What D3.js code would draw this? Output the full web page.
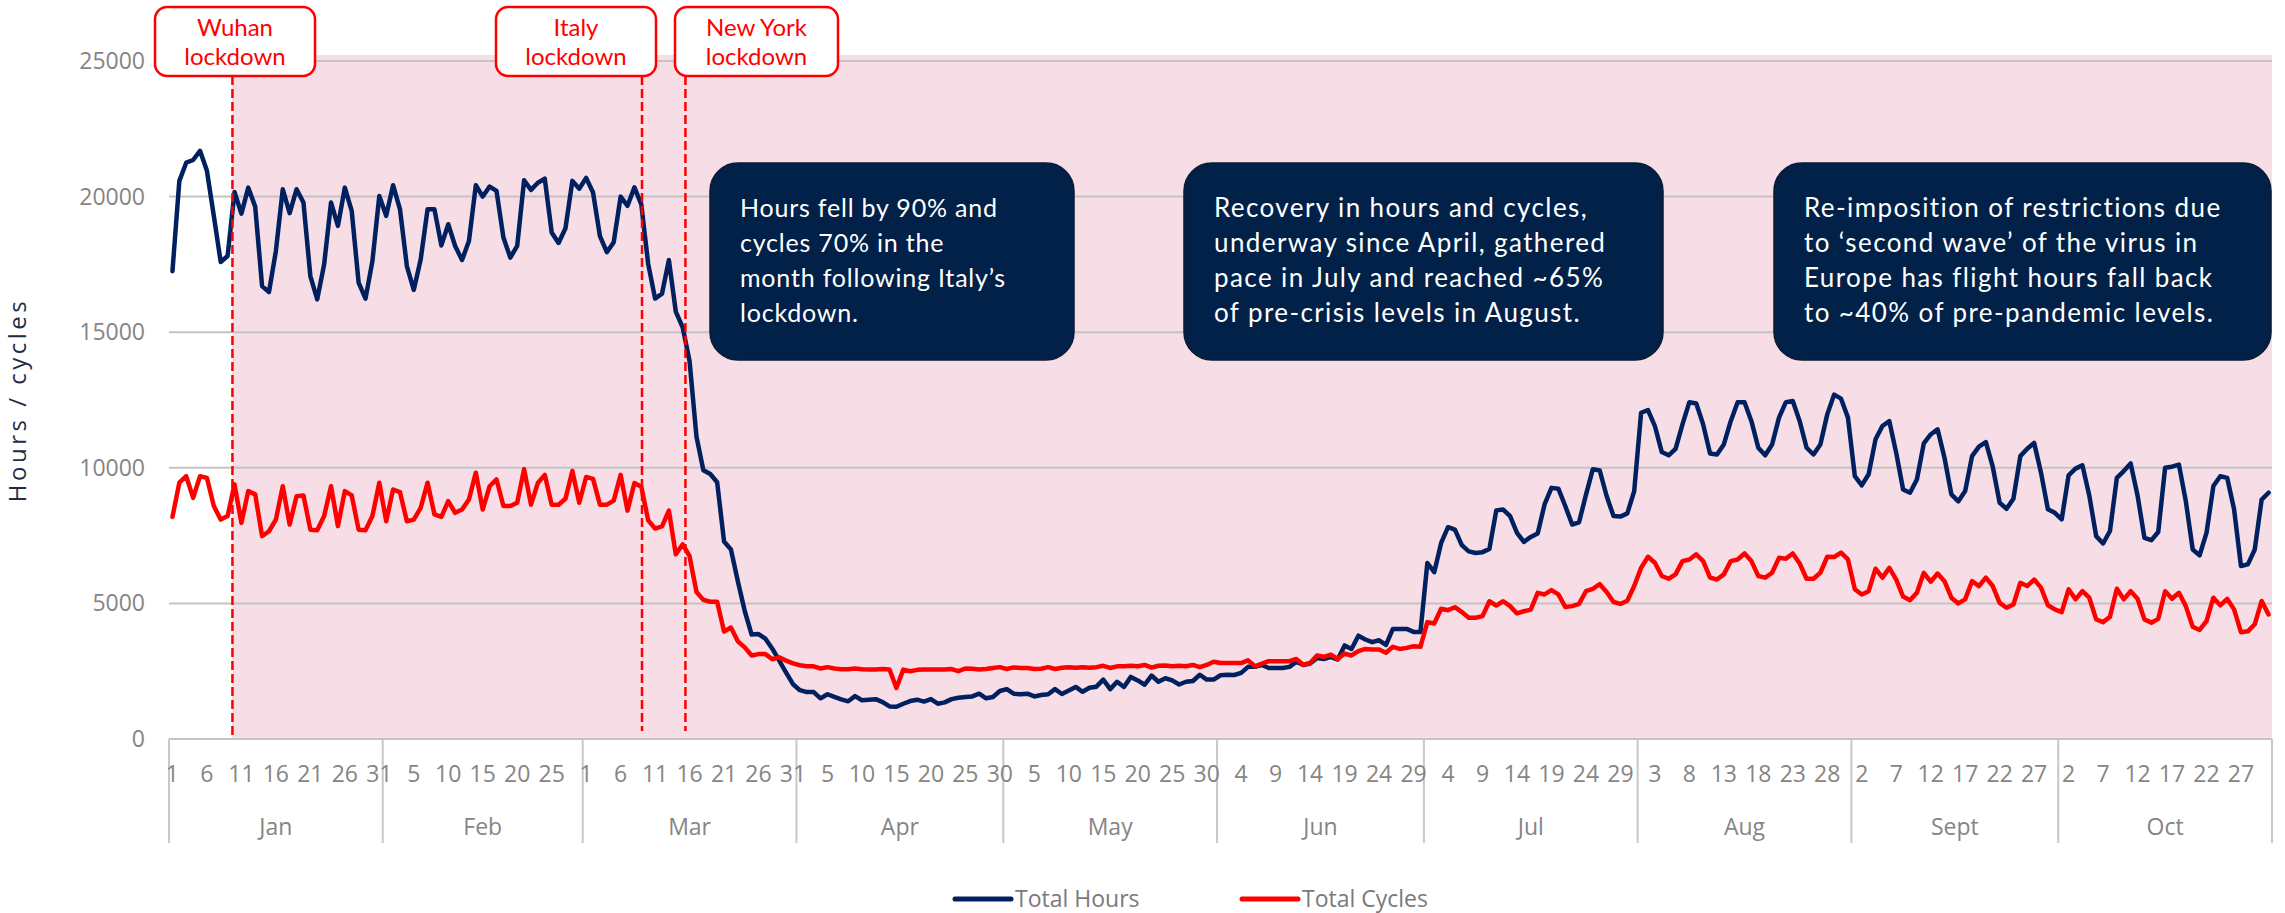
<!DOCTYPE html>
<html>
<head>
<meta charset="utf-8">
<script src="https://cdn.jsdelivr.net/npm/d3@7"></script>
<style>
  body { margin: 0; background: #fff; }
  svg { display: block; }
</style>
</head>
<body>
<svg id="chart" width="2285" height="913"></svg>
<script>
// Daily flight hours and cycles, 1 Jan - 31 Oct 2020
const months = ['Jan', 'Feb', 'Mar', 'Apr', 'May', 'Jun', 'Jul', 'Aug', 'Sept', 'Oct'];
const monthDays = [31, 29, 31, 30, 31, 30, 31, 31, 30, 31];
const yTicks = [0, 5000, 10000, 15000, 20000, 25000];

const totalHours = [
  // Jan
  17250, 20580, 21250, 21350, 21690, 20950, 19290, 17590, 17810, 20170,
  19370, 20330, 19630, 16700, 16480, 17990, 20270, 19390, 20270, 19780,
  17070, 16210, 17500, 19780, 18920, 20330, 19470, 16830, 16240, 17620, 20020,
  // Feb
  19290, 20420, 19530, 17440, 16560, 17680, 19530, 19530, 18200, 18980,
  18180, 17660, 18360, 20420, 20000, 20370, 20210, 18490, 17750, 18180,
  20600, 20250, 20510, 20660, 18680, 18290, 18830, 20580, 20290,
  // Mar
  20690, 20150, 18540, 17950, 18320, 20000, 19660, 20340, 19710, 17510,
  16240, 16420, 17660, 15760, 15180, 13930, 11150, 9910, 9770, 9470,
  7280, 6990, 5820, 4720, 3850, 3870, 3700, 3330, 2890, 2450, 2020,
  // Apr
  1800, 1730, 1730, 1500, 1650, 1550, 1460, 1390, 1580, 1430,
  1450, 1470, 1360, 1200, 1190, 1300, 1400, 1450, 1380, 1470,
  1300, 1350, 1470, 1520, 1550, 1570, 1670, 1500, 1550, 1770,
  // May
  1840, 1670, 1650, 1670, 1570, 1620, 1650, 1840, 1660, 1790,
  1920, 1740, 1890, 1930, 2190, 1840, 2110, 1920, 2290, 2160,
  2000, 2340, 2110, 2240, 2160, 2010, 2110, 2140, 2370, 2190, 2190,
  // Jun
  2350, 2370, 2360, 2440, 2660, 2660, 2730, 2620, 2620, 2620,
  2660, 2850, 2730, 2780, 2990, 2950, 3030, 2930, 3450, 3320,
  3810, 3670, 3570, 3640, 3470, 4060, 4060, 4060, 3950, 3950,
  // Jul
  6490, 6150, 7230, 7810, 7720, 7150, 6920, 6860, 6890, 7010,
  8430, 8460, 8220, 7600, 7270, 7450, 7580, 8650, 9260, 9230,
  8590, 7910, 7990, 9000, 9950, 9900, 8960, 8220, 8200, 8320, 9140,
  // Aug
  12030, 12130, 11540, 10580, 10460, 10700, 11600, 12420, 12370, 11600,
  10530, 10490, 10860, 11720, 12420, 12420, 11720, 10740, 10460, 10860,
  11850, 12420, 12460, 11720, 10740, 10490, 10860, 11970, 12700, 12550, 11850,
  // Sept
  9690, 9350, 9760, 11050, 11540, 11720, 10550, 9200, 9080, 9570,
  10900, 11230, 11420, 10370, 9020, 8760, 9140, 10430, 10780, 10950,
  10040, 8710, 8490, 8860, 10430, 10700, 10920, 9820, 8470, 8340,
  // Oct
  8100, 9720, 9970, 10090, 8980, 7480, 7210, 7670, 9630, 9880,
  10160, 8980, 7420, 7330, 7630, 10000, 10040, 10120, 8770, 6990,
  6770, 7600, 9330, 9690, 9630, 8470, 6380, 6440, 6990, 8830, 9080
];

const totalCycles = [
  // Jan
  8190, 9450, 9690, 8890, 9690, 9630, 8590, 8090, 8220, 9390,
  7970, 9140, 9020, 7480, 7660, 8090, 9320, 7910, 8950, 8980,
  7720, 7700, 8220, 9320, 7850, 9140, 8980, 7720, 7700, 8220, 9450,
  // Feb
  8030, 9200, 9100, 8030, 8090, 8520, 9450, 8280, 8190, 8770,
  8340, 8460, 8830, 9820, 8460, 9320, 9570, 8590, 8590, 8710,
  9950, 8640, 9440, 9740, 8640, 8640, 8860, 9880, 8710,
  // Mar
  9660, 9590, 8640, 8640, 8790, 9740, 8420, 9440, 9300, 8060,
  7760, 7840, 8420, 6810, 7180, 6740, 5420, 5130, 5060, 5060,
  3960, 4110, 3600, 3380, 3080, 3130, 3130, 2940, 3010, 2890, 2790,
  // Apr
  2720, 2680, 2680, 2600, 2650, 2600, 2570, 2570, 2600, 2570,
  2560, 2560, 2580, 2560, 1880, 2560, 2500, 2550, 2560, 2560,
  2560, 2560, 2580, 2500, 2600, 2590, 2560, 2580, 2620, 2650,
  // May
  2580, 2640, 2620, 2620, 2580, 2590, 2650, 2580, 2630, 2650,
  2630, 2650, 2630, 2650, 2700, 2620, 2680, 2680, 2700, 2680,
  2730, 2630, 2700, 2710, 2680, 2700, 2680, 2730, 2650, 2730, 2850,
  // Jun
  2800, 2800, 2800, 2800, 2900, 2680, 2780, 2870, 2870, 2870,
  2870, 2950, 2740, 2800, 3080, 3030, 3110, 2950, 3150, 3080,
  3240, 3320, 3300, 3300, 3180, 3400, 3320, 3360, 3420, 3400,
  // Jul
  4310, 4260, 4800, 4750, 4860, 4680, 4470, 4470, 4530, 5080,
  4920, 5080, 4900, 4630, 4710, 4770, 5390, 5330, 5490, 5330,
  4870, 4900, 4980, 5450, 5540, 5710, 5420, 5050, 4980, 5100, 5640,
  // Aug
  6310, 6720, 6500, 6010, 5910, 6070, 6560, 6620, 6810, 6560,
  5950, 5880, 6070, 6560, 6620, 6840, 6560, 6010, 5950, 6130,
  6680, 6650, 6840, 6470, 5910, 5910, 6130, 6720, 6710, 6870, 6620,
  // Sept
  5520, 5330, 5450, 6280, 5950, 6310, 5880, 5250, 5120, 5390,
  6130, 5800, 6100, 5820, 5210, 5000, 5150, 5820, 5640, 5950,
  5640, 5020, 4840, 4960, 5760, 5640, 5880, 5580, 4930, 4780,
  // Oct
  4680, 5520, 5150, 5450, 5210, 4410, 4310, 4510, 5540, 5150,
  5450, 5170, 4410, 4290, 4430, 5450, 5170, 5390, 4900, 4140,
  4020, 4350, 5210, 4930, 5170, 4780, 3940, 3970, 4230, 5090, 4590
];

// lockdown markers, day = fractional index into the daily series
const events = [
  { lines: ['Wuhan', 'lockdown'], day: 9.2 },
  { lines: ['Italy', 'lockdown'], day: 68.6 },
  { lines: ['New York', 'lockdown'], day: 74.9 }
];

const calloutText = [
  ['Hours fell by 90% and', 'cycles 70% in the', 'month following Italy\u2019s', 'lockdown.'],
  ['Recovery in hours and cycles,', 'underway since April, gathered', 'pace in July and reached ~65%', 'of pre-crisis levels in August.'],
  ['Re-imposition of restrictions due', 'to \u2018second wave\u2019 of the virus in', 'Europe has flight hours fall back', 'to ~40% of pre-pandemic levels.']
];

const series = [
  { name: 'Total Hours', values: totalHours, color: '#002060' },
  { name: 'Total Cycles', values: totalCycles, color: '#ff0000' }
];

// layout
const plot = { left: 169, right: 2272, top: 61, bottom: 739 };
const eventBoxes = [
  { x: 155, w: 160 },
  { x: 496, w: 160 },
  { x: 675, w: 163 }
];
const calloutBoxes = [
  { x: 710, w: 364, size: 25, spacing: 0.8 },
  { x: 1184, w: 479, size: 26, spacing: 1.4 },
  { x: 1774, w: 497, size: 26, spacing: 1.4 }
];
const axisFont = '"Open Sans", "DejaVu Sans", sans-serif';
const noteFont = 'Lato, "Open Sans", sans-serif';

const svg = d3.select('#chart');
const n = totalHours.length;

const x = d3.scaleLinear().domain([0, n]).range([plot.left, plot.right]);
const y = d3.scaleLinear().domain([0, 25000]).range([plot.bottom, plot.top]);

// shaded period from the Wuhan lockdown onwards
svg
  .append('rect')
  .attr('x', x(events[0].day))
  .attr('y', 55)
  .attr('width', plot.right - x(events[0].day))
  .attr('height', plot.bottom - 55)
  .attr('fill', '#f7dde5');

// gridlines + y labels
yTicks.forEach(v => {
  if (v > 0) {
    svg
      .append('line')
      .attr('x1', plot.left)
      .attr('x2', plot.right)
      .attr('y1', y(v))
      .attr('y2', y(v))
      .attr('stroke', '#c4c4c4')
      .attr('stroke-width', 2);
  }
  svg
    .append('text')
    .attr('x', 145)
    .attr('y', y(v) + 8)
    .attr('text-anchor', 'end')
    .attr('font-family', axisFont)
    .attr('font-size', 23)
    .attr('fill', '#858585')
    .text(v);
});

svg
  .append('text')
  .attr('transform', 'translate(26,400) rotate(-90)')
  .attr('text-anchor', 'middle')
  .attr('font-family', axisFont)
  .attr('font-size', 24)
  .attr('letter-spacing', 3.5)
  .attr('fill', '#222d45')
  .text('Hours / cycles');

// category axis: days within months
const xAxis = svg.append('g');
xAxis
  .append('line')
  .attr('x1', plot.left)
  .attr('x2', plot.right)
  .attr('y1', plot.bottom)
  .attr('y2', plot.bottom)
  .attr('stroke', '#c4c4c4')
  .attr('stroke-width', 2);

const monthStarts = d3.cumsum([0].concat(monthDays));
monthStarts.forEach(s => {
  xAxis
    .append('line')
    .attr('x1', x(s))
    .attr('x2', x(s))
    .attr('y1', plot.bottom)
    .attr('y2', 843)
    .attr('stroke', '#c8c8c8')
    .attr('stroke-width', 2);
});

d3.range(0, n, 5).forEach(i => {
  xAxis
    .append('text')
    .attr('x', x(i + 0.5))
    .attr('y', 782)
    .attr('text-anchor', 'middle')
    .attr('font-family', axisFont)
    .attr('font-size', 23)
    .attr('fill', '#858585')
    .text(new Date(2020, 0, 1 + i).getDate());
});

months.forEach((m, k) => {
  xAxis
    .append('text')
    .attr('x', x((monthStarts[k] + monthStarts[k + 1]) / 2))
    .attr('y', 835)
    .attr('text-anchor', 'middle')
    .attr('font-family', axisFont)
    .attr('font-size', 23)
    .attr('fill', '#858585')
    .text(m);
});

// series
const line = d3
  .line()
  .x((d, i) => x(i + 0.5))
  .y(d => y(d));

series.forEach(s => {
  svg
    .append('path')
    .datum(s.values)
    .attr('d', line)
    .attr('fill', 'none')
    .attr('stroke', s.color)
    .attr('stroke-width', 4.5)
    .attr('stroke-linejoin', 'round')
    .attr('stroke-linecap', 'round');
});

// lockdown markers
events.forEach((e, k) => {
  const b = eventBoxes[k];
  svg
    .append('line')
    .attr('x1', x(e.day))
    .attr('x2', x(e.day))
    .attr('y1', 76)
    .attr('y2', k === 0 ? plot.bottom : plot.bottom - 8)
    .attr('stroke', '#ff0000')
    .attr('stroke-width', 2.5)
    .attr('stroke-dasharray', '9,4');

  svg
    .append('rect')
    .attr('x', b.x)
    .attr('y', 7)
    .attr('width', b.w)
    .attr('height', 69)
    .attr('rx', 12)
    .attr('fill', '#fff')
    .attr('stroke', '#ff0000')
    .attr('stroke-width', 2.5);

  e.lines.forEach((t, j) => {
    svg
      .append('text')
      .attr('x', b.x + b.w / 2)
      .attr('y', 36 + j * 29)
      .attr('text-anchor', 'middle')
      .attr('font-family', noteFont)
      .attr('font-size', 24)
      .attr('fill', '#ff0000')
      .text(t);
  });
});

// commentary boxes
calloutText.forEach((lines, k) => {
  const b = calloutBoxes[k];
  svg
    .append('rect')
    .attr('x', b.x)
    .attr('y', 163)
    .attr('width', b.w)
    .attr('height', 197)
    .attr('rx', 28)
    .attr('fill', '#012148')
    .attr('stroke', '#0b1a33')
    .attr('stroke-width', 1.5);

  lines.forEach((t, j) => {
    svg
      .append('text')
      .attr('x', b.x + 30)
      .attr('y', 217 + j * 35)
      .attr('font-family', noteFont)
      .attr('font-size', b.size)
      .attr('letter-spacing', b.spacing)
      .attr('fill', '#fff')
      .text(t);
  });
});

// legend
const legendX = [955, 1242];
series.forEach((s, k) => {
  svg
    .append('line')
    .attr('x1', legendX[k])
    .attr('x2', legendX[k] + 56)
    .attr('y1', 899)
    .attr('y2', 899)
    .attr('stroke', s.color)
    .attr('stroke-width', 5)
    .attr('stroke-linecap', 'round');
  svg
    .append('text')
    .attr('x', legendX[k] + 60)
    .attr('y', 907)
    .attr('font-family', axisFont)
    .attr('font-size', 23)
    .attr('fill', '#7a7a7a')
    .text(s.name);
});
</script>
</body>
</html>
